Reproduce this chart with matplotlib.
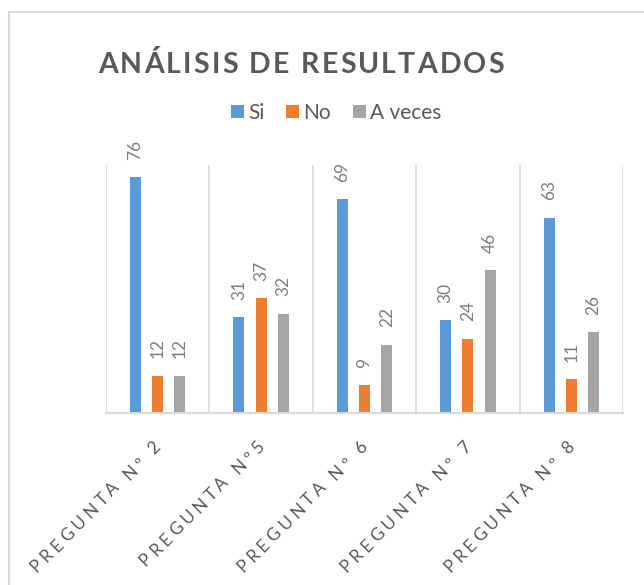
import matplotlib
matplotlib.use("Agg")
import matplotlib.pyplot as plt
from matplotlib.font_manager import FontProperties, findfont
from matplotlib.ft2font import FT2Font
from matplotlib.patches import Patch, Rectangle
import numpy as np

try:
    from matplotlib.ft2font import LoadFlags
    NOHINT = LoadFlags.NO_HINTING
except Exception:
    from matplotlib.ft2font import LOAD_NO_HINTING as NOHINT

categories = ["PREGUNTA Nº 2", "PREGUNTA Nº5", "PREGUNTA Nº 6", "PREGUNTA Nº 7", "PREGUNTA Nº 8"]
series_names = ["Si", "No", "A veces"]
si = [76, 31, 69, 30, 63]
no = [12, 37, 9, 24, 11]
a_veces = [12, 32, 22, 46, 26]
title = "ANÁLISIS DE RESULTADOS"

colors = ["#5B9BD5", "#ED7D31", "#A5A5A5"]
W, H, DPI = 644, 585, 100

fig = plt.figure(figsize=(W / DPI, H / DPI), dpi=DPI)
fig.patch.set_facecolor("white")

# outer chart border (cropped at right/bottom)
fig.patches.append(Rectangle((9 / W, -0.1), 1.2, (H - 12) / H + 0.1, transform=fig.transFigure,
                             fill=False, edgecolor="#D9D9D9", linewidth=1.5, zorder=0))

left, right, base, top = 106, 623, 413, 165
ax = fig.add_axes([left / W, (H - base) / H, (right - left) / W, (base - top) / H])

x = np.arange(len(categories))
bw = 0.107
offs = [-0.215, 0.0, 0.215]
for vals, off, c, name in zip([si, no, a_veces], offs, colors, series_names):
    ax.bar(x + off, vals, width=bw, color=c, label=name, zorder=2)
    for xi, v in zip(x + off, vals):
        ax.annotate(str(v), (xi, v), xytext=(0, 12.5), textcoords="offset points",
                    rotation=90, ha="center", va="bottom", fontsize=12.5,
                    color="#7F7F7F", family="Lato", annotation_clip=False)

ax.set_xlim(-0.5, len(categories) - 0.5)
ax.set_ylim(0, 80)
for b in np.arange(-0.5, len(categories), 1.0):
    ax.axvline(b, color="#D9D9D9", linewidth=1.2, zorder=1)
for s in ["top", "left", "right"]:
    ax.spines[s].set_visible(False)
ax.spines["bottom"].set_color("#D9D9D9")
ax.spines["bottom"].set_linewidth(1.5)
ax.set_xticks([])
ax.set_yticks([])
ax.patch.set_alpha(0)


def advances(s, fp):
    font = FT2Font(findfont(fp))
    font.set_size(fp.get_size_in_points(), DPI)
    out = []
    for ch in s:
        g = font.load_char(ord(ch), flags=NOHINT)
        out.append(g.linearHoriAdvance / 65536)
    return out


def spaced(x0, y0, s, fp, spacing, angle, color, anchor="start"):
    adv = advances(s, fp)
    total = sum(adv) + spacing * (len(s) - 1)
    th = np.deg2rad(angle)
    dx, dy = np.cos(th), np.sin(th)
    pos = {"start": 0, "center": -total / 2, "end": -total}[anchor]
    for ch, a in zip(s, adv):
        px = x0 + pos * dx
        py = (H - y0) + pos * dy
        if ch != " ":
            fig.text(px / W, py / H, ch, fontproperties=fp, color=color, rotation=angle,
                     rotation_mode="anchor", ha="left", va="baseline")
        pos += a + spacing


# title
fp_title = FontProperties(family="Lato", weight="bold", size=20.5)
spaced(301, 73, title, fp_title, 2.2, 0, "#595959", anchor="center")

# x labels
fp_lab = FontProperties(family="Lato", size=12.5)
cw = (right - left) / len(categories)
for i, lab in enumerate(categories):
    cx = left + cw * (i + 0.5)
    spaced(cx + 4, 448, lab, fp_lab, 3.8, 45, "#595959", anchor="end")

# legend
handles = [Patch(facecolor=c, edgecolor="none") for c in colors]
leg = fig.legend(handles, series_names, loc="center", bbox_to_anchor=(336 / W, 1 - 113 / H),
                 ncol=3, frameon=False, handlelength=0.62, handleheight=0.62,
                 handletextpad=0.2, columnspacing=1.05,
                 prop=FontProperties(family="Lato", size=15))
for t in leg.get_texts():
    t.set_color("#595959")

fig.savefig("out.png", dpi=DPI)
